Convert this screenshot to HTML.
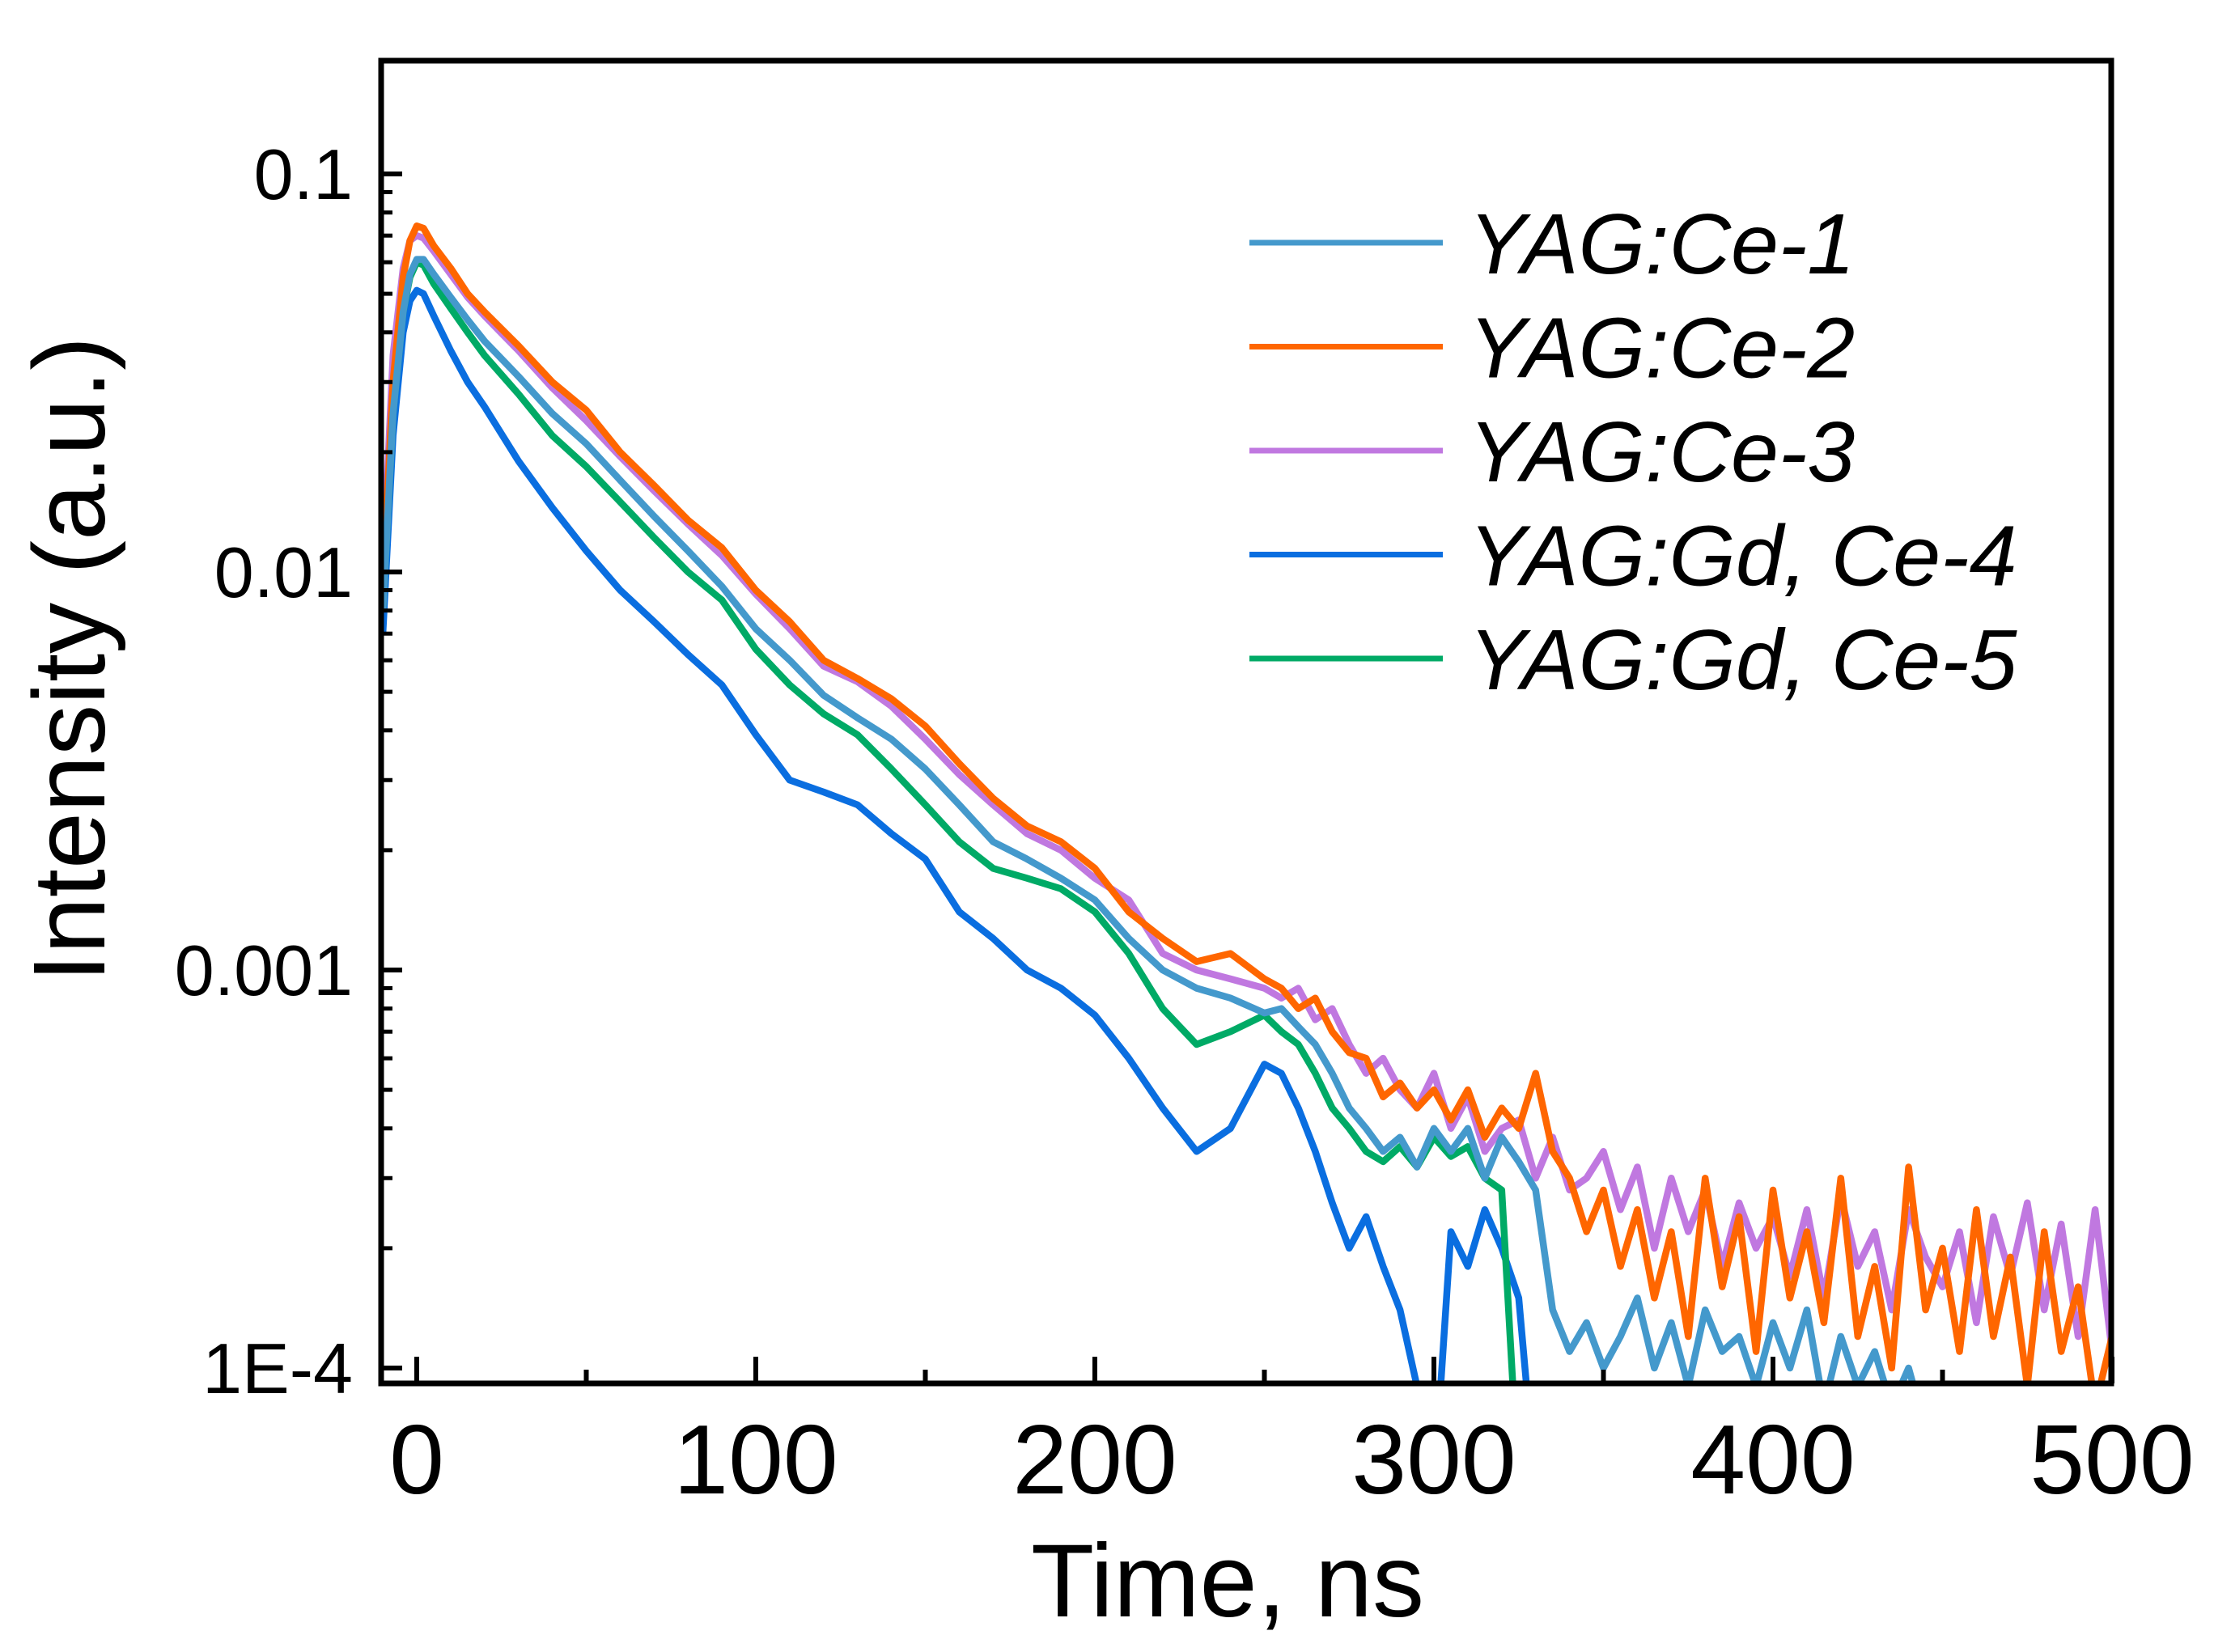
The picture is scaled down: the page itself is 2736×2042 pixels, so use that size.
<!DOCTYPE html>
<html><head><meta charset="utf-8"><style>
html,body{margin:0;padding:0;background:#fff;}
svg{display:block;font-family:"Liberation Sans",Arial,sans-serif;}
</style></head><body>
<svg id="chart" width="2736" height="2042" viewBox="0 0 2736 2042" xmlns="http://www.w3.org/2000/svg">
<defs><clipPath id="plotclip"><rect x="474" y="78" width="2132" height="1629"/></clipPath></defs>
<g id="series" clip-path="url(#plotclip)"></g>
<rect x="471" y="75" width="2138" height="1635" fill="none" stroke="#000" stroke-width="7"/>
<g id="axes"></g>
<g id="legend"></g>
<text x="1517" y="1998" font-size="128" text-anchor="middle">Time, ns</text>
<text transform="translate(129,815) rotate(-90)" font-size="126" text-anchor="middle">Intensity (a.u.)</text>
</svg>
<script>
const times=[-10,-7,-4,-2,0,2,5,10,15,20,30,40,50,60,70,80,90,100,110,120,130,140,150,160,170,180,190,200,210,220,230,240,250,
255,260,265,270,275,280,285,290,295,300,305,310,315,320,325,330,335,340,345,350,355,360,365,370,375,380,385,390,395,400,405,410,415,420,425,430,435,440,445,450,455,460,465,470,475,480,485,490,495,500];
const ce1=[0.008,0.025,0.045,0.056,0.061,0.061,0.056,0.049,0.043,0.038,0.031,0.025,0.021,0.017,0.0138,0.0113,0.0092,0.0072,0.0060,0.0049,0.0043,0.0038,0.0032,0.0026,0.0021,0.0019,0.0017,0.0015,0.0012,0.0010,0.0009,0.00085,0.00078,
0.0008,0.00072,0.00065,0.00055,0.00045,0.0004,0.00035,0.00038,0.00032,0.0004,0.00035,0.0004,0.0003,0.00038,0.00033,0.00028,0.00014,0.00011,0.00013,0.0001,0.00012,0.00015,0.0001,0.00013,0.00009,0.00014,0.00011,0.00012,0.00009,0.00013,0.0001,0.00014,0.00008,0.00012,0.00009,0.00011,0.00008,0.0001,0.00007,0.00009,0.00006,0.00008,0.00006,0.00007,0.00005,0.00006,0.00005,0.00005,0.00005,0.00005];
const ce2=[0.009,0.03,0.055,0.068,0.074,0.073,0.066,0.058,0.050,0.045,0.037,0.030,0.0255,0.020,0.0165,0.0135,0.0115,0.0090,0.0075,0.0060,0.0054,0.0048,0.0041,0.0033,0.0027,0.0023,0.0021,0.0018,0.0014,0.0012,0.00105,0.0011,0.00095,
0.0009,0.0008,0.00085,0.0007,0.00062,0.0006,0.00048,0.00052,0.00045,0.0005,0.00042,0.0005,0.00038,0.00045,0.0004,0.00055,0.00035,0.0003,0.00022,0.00028,0.00018,0.00025,0.00015,0.00022,0.00012,0.0003,0.00016,0.00024,0.00011,0.00028,0.00015,0.00022,0.00013,0.0003,0.00012,0.00018,0.0001,0.00032,0.00014,0.0002,0.00011,0.00025,0.00012,0.00019,0.00009,0.00022,0.00011,0.00016,0.00008,0.00012];
const ce3=[0.010,0.035,0.058,0.068,0.070,0.069,0.064,0.056,0.049,0.044,0.036,0.029,0.024,0.0195,0.016,0.0132,0.0110,0.0088,0.0072,0.0058,0.0053,0.0046,0.0038,0.0031,0.0026,0.0022,0.0020,0.0017,0.0015,0.0011,0.0010,0.00095,0.0009,
0.00085,0.0009,0.00075,0.0008,0.00065,0.00055,0.0006,0.0005,0.00045,0.00055,0.0004,0.00048,0.00035,0.0004,0.00042,0.0003,0.00038,0.00028,0.0003,0.00035,0.00025,0.00032,0.0002,0.0003,0.00022,0.00028,0.00018,0.00026,0.0002,0.00024,0.00017,0.00025,0.00015,0.00027,0.00018,0.00022,0.00014,0.00025,0.00019,0.00016,0.00022,0.00013,0.00024,0.00017,0.00026,0.00014,0.00023,0.00012,0.00025,0.00011];
const ce4=[0.007,0.022,0.040,0.048,0.051,0.050,0.044,0.036,0.030,0.026,0.019,0.0145,0.0113,0.0090,0.0075,0.0062,0.0052,0.0039,0.0030,0.0028,0.0026,0.0022,0.0019,0.0014,0.0012,0.0010,0.0009,0.00077,0.0006,0.00045,0.00035,0.0004,0.00058,
0.00055,0.00045,0.00035,0.00026,0.0002,0.00024,0.00018,0.00014,0.00009,0.00005,0.00022,0.00018,0.00025,0.0002,0.00015,0.00005,0.00005,0.00005,0.00005,0.00005,0.00005,0.00005,0.00005,0.00005,0.00005,0.00005,0.00005,0.00005,0.00005,0.00005,0.00005,0.00005,0.00005,0.00005,0.00005,0.00005,0.00005,0.00005,0.00005,0.00005,0.00005,0.00005,0.00005,0.00005,0.00005,0.00005,0.00005,0.00005,0.00005,0.00005];
const ce5=[0.008,0.025,0.045,0.055,0.060,0.059,0.053,0.046,0.040,0.035,0.028,0.022,0.0184,0.0150,0.0122,0.0100,0.0085,0.0064,0.0052,0.0044,0.0039,0.0032,0.0026,0.0021,0.0018,0.0017,0.0016,0.0014,0.0011,0.0008,0.00065,0.0007,0.00077,
0.0007,0.00065,0.00055,0.00045,0.0004,0.00035,0.00033,0.00036,0.00032,0.00038,0.00034,0.00036,0.0003,0.00028,0.00005,0.00005,0.00005,0.00005,0.00005,0.00005,0.00005,0.00005,0.00005,0.00005,0.00005,0.00005,0.00005,0.00005,0.00005,0.00005,0.00005,0.00005,0.00005,0.00005,0.00005,0.00005,0.00005,0.00005,0.00005,0.00005,0.00005,0.00005,0.00005,0.00005,0.00005,0.00005,0.00005,0.00005,0.00005,0.00005];
const seriesNames=["YAG:Ce-1","YAG:Ce-2","YAG:Ce-3","YAG:Gd, Ce-4","YAG:Gd, Ce-5"];
const seriesColors=["#4499cc","#ff6600","#c078e0","#0a6ee0","#00aa66"];
const xTicks=[0,100,200,300,400,500];
const xMinor=[50,150,250,350,450];
const yTicks=[0.1,0.01,0.001,0.0001];
const yTickLabels=["0.1","0.01","0.001","1E-4"];

const NS="http://www.w3.org/2000/svg";
function xs(t){return 515+(t-0)*4.19;}
function ys(v){return 215+(-1-Math.log10(v))*492;}
function mk(tag,attrs,parent){const e=document.createElementNS(NS,tag);for(const k in attrs)e.setAttribute(k,attrs[k]);parent.appendChild(e);return e;}

const sg=document.getElementById('series');
const data=[ce1,ce2,ce3,ce4,ce5];
const order=[3,4,2,1,0];
const keys=["ce-1","ce-2","ce-3","ce-4","ce-5"];
order.forEach(i=>{
  const d=times.map((t,j)=>(j?'L':'M')+xs(t).toFixed(1)+','+ys(data[i][j]).toFixed(1)).join(' ');
  const p=mk('path',{d:d,fill:'none',stroke:seriesColors[i],'stroke-width':8.5,'stroke-linejoin':'round'},sg);
  
  
});

const ax=document.getElementById('axes');
xTicks.forEach(t=>{
  const l=mk('line',{x1:xs(t),x2:xs(t),y1:1710,y2:1677,stroke:'#000','stroke-width':6},ax);
  
  
  const tx=mk('text',{x:xs(t),y:1846,'font-size':122,'text-anchor':'middle'},ax);
  tx.textContent=String(t);
  
  
});
xMinor.forEach(t=>{
  const l=mk('line',{x1:xs(t),x2:xs(t),y1:1710,y2:1693,stroke:'#000','stroke-width':6},ax);
  
  
});
yTicks.forEach((v,i)=>{
  const l=mk('line',{x1:471,x2:497,y1:ys(v),y2:ys(v),stroke:'#000','stroke-width':6},ax);
  
  
  const tx=mk('text',{x:436,y:ys(v)+31,'font-size':88,'text-anchor':'end'},ax);
  tx.textContent=yTickLabels[i];
  
  
});
[0.0001,0.001,0.01,0.1].forEach(dec=>{
  for(let m=2;m<=9;m++){
    const v=dec*m; const y=ys(v);
    if(y<80||y>1705)continue;
    const l=mk('line',{x1:471,x2:485,y1:y,y2:y,stroke:'#000','stroke-width':5},ax);
    
    
  }
});

const lg=document.getElementById('legend');
seriesNames.forEach((n,i)=>{
  const y=300+i*128.5;
  const l=mk('line',{x1:1544,x2:1783,y1:y,y2:y,stroke:seriesColors[i],'stroke-width':7},lg);
  
  
  const tx=mk('text',{x:1815,y:y+38,'font-size':106,'font-style':'italic'},lg);
  tx.textContent=n;
  
  
});
</script>
</body></html>
